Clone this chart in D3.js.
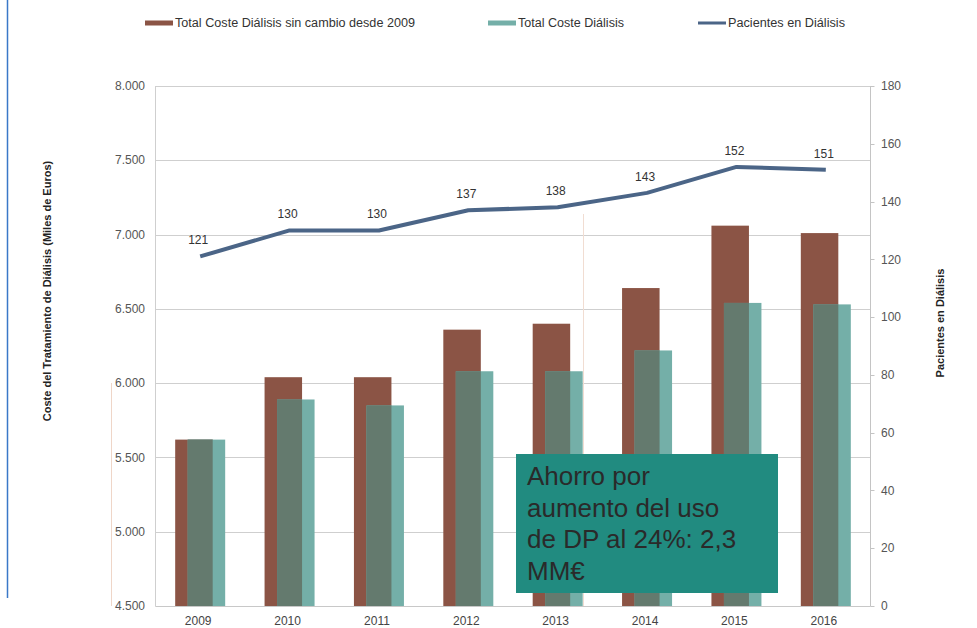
<!DOCTYPE html>
<html>
<head>
<meta charset="utf-8">
<script src="https://cdn.jsdelivr.net/npm/d3@7"></script>
<style>
  html, body { margin: 0; padding: 0; background: #fff; }
  svg { display: block; font-family: "Liberation Sans", Arial, sans-serif; }
</style>
</head>
<body>
<svg id="chart" width="977" height="628"></svg>
<script>
// ---- data ----
const years = ["2009", "2010", "2011", "2012", "2013", "2014", "2015", "2016"];
const costeSinCambio = [5620, 6040, 6040, 6360, 6400, 6640, 7060, 7010];
const costeTotal = [5620, 5890, 5850, 6080, 6080, 6220, 6540, 6530];
const pacientes = [121, 130, 130, 137, 138, 143, 152, 151];
const leftTicks = [4500, 5000, 5500, 6000, 6500, 7000, 7500, 8000];
const rightTicks = [0, 20, 40, 60, 80, 100, 120, 140, 160, 180];
const legendLabels = ["Total Coste Diálisis sin cambio desde 2009", "Total Coste Diálisis", "Pacientes en Diálisis"];
const annotationLines = ["Ahorro por", "aumento del uso", "de DP al 24%: 2,3", "MM€"];

// ---- layout ----
const svg = d3.select("#chart");
const L = 155.5, R = 870.5, T = 86, B = 606;
const cBrown = "#8b5445", cTeal = "#74afa8", cOver = "#647a6e", cLine = "#4b6587";

const x = d3.scaleBand().domain(years).range([L, R]).paddingInner(0).paddingOuter(0);
const yL = d3.scaleLinear().domain([4500, 8000]).range([B, T]);
const yR = d3.scaleLinear().domain([0, 180]).range([B, T]);

const fmt = d => d3.format(",")(d).replace(/,/g, ".");

// blue frame line at far left
svg.append("line").attr("x1", 7.5).attr("x2", 7.5).attr("y1", 0).attr("y2", 598)
  .attr("stroke", "#3a78c8").attr("stroke-width", 1.5);

// gridlines
svg.append("g").selectAll("line").data(leftTicks).join("line")
  .attr("x1", L).attr("x2", R)
  .attr("y1", d => Math.round(yL(d)) + 0.5).attr("y2", d => Math.round(yL(d)) + 0.5)
  .attr("stroke", "#cfcfcf").attr("stroke-width", 1);

// faint artifacts
svg.append("line").attr("x1", 583.5).attr("x2", 583.5).attr("y1", 214).attr("y2", B)
  .attr("stroke", "#f1ddd2").attr("stroke-width", 1);
svg.append("line").attr("x1", 111.5).attr("x2", 111.5).attr("y1", 383).attr("y2", B)
  .attr("stroke", "#efd6c8").attr("stroke-width", 1);

// axes lines
svg.append("line").attr("x1", L).attr("x2", L).attr("y1", T).attr("y2", B).attr("stroke", "#cfcfcf");
svg.append("line").attr("x1", R).attr("x2", R).attr("y1", T).attr("y2", B).attr("stroke", "#c4c4c4");

// bars
const bw = 37.5, off = 12.5;
const cx = d => x(d) + x.bandwidth() / 2;
const gBars = svg.append("g");
years.forEach((yr, i) => {
  const c = cx(yr);
  const bx0 = c - off - bw / 2 + 0, tx0 = c + off - bw / 2;
  gBars.append("rect").attr("x", c - 25).attr("width", bw)
    .attr("y", yL(costeSinCambio[i])).attr("height", B - yL(costeSinCambio[i])).attr("fill", cBrown);
  gBars.append("rect").attr("x", c - 25 + off).attr("width", bw)
    .attr("y", yL(costeTotal[i])).attr("height", B - yL(costeTotal[i])).attr("fill", cTeal);
  const top = Math.max(yL(costeTotal[i]), yL(costeSinCambio[i]));
  gBars.append("rect").attr("x", c - 25 + off).attr("width", bw - off)
    .attr("y", top).attr("height", B - top).attr("fill", cOver);
});

// bottom axis line
svg.append("line").attr("x1", L).attr("x2", R).attr("y1", B + 0.5).attr("y2", B + 0.5).attr("stroke", "#c8c8c8");

// left axis labels
svg.append("g").selectAll("text").data(leftTicks).join("text")
  .attr("x", 145).attr("y", d => yL(d)).attr("dy", "0.35em")
  .attr("text-anchor", "end").attr("font-size", 12).attr("fill", "#555").text(fmt);

// right axis ticks + labels
svg.append("g").selectAll("line").data(rightTicks).join("line")
  .attr("x1", R).attr("x2", R + 4).attr("y1", d => Math.round(yR(d)) + 0.5).attr("y2", d => Math.round(yR(d)) + 0.5)
  .attr("stroke", "#c4c4c4");
svg.append("g").selectAll("text").data(rightTicks).join("text")
  .attr("x", 881).attr("y", d => yR(d)).attr("dy", "0.35em")
  .attr("text-anchor", "start").attr("font-size", 12).attr("fill", "#555").text(d => d);

// x labels
svg.append("g").selectAll("text").data(years).join("text")
  .attr("x", d => cx(d) - 2).attr("y", 625)
  .attr("text-anchor", "middle").attr("font-size", 12).attr("fill", "#444").text(d => d);

// axis titles
svg.append("text").attr("transform", "translate(51,291) rotate(-90)")
  .attr("text-anchor", "middle").attr("font-size", 11).attr("font-weight", "bold").attr("fill", "#222")
  .text("Coste del Tratamiento de Diálisis (Miles de Euros)");
svg.append("text").attr("transform", "translate(944,323) rotate(-90)")
  .attr("text-anchor", "middle").attr("font-size", 11).attr("font-weight", "bold").attr("fill", "#222")
  .text("Pacientes en Diálisis");

// line
const line = d3.line().x((d, i) => cx(years[i])).y(d => yR(d));
svg.append("path").datum(pacientes).attr("d", line)
  .attr("fill", "none").attr("stroke", cLine).attr("stroke-width", 4).attr("stroke-linejoin", "round");
svg.append("g").selectAll("text").data(pacientes).join("text")
  .attr("x", (d, i) => cx(years[i]) - 2).attr("y", d => yR(d) - 12)
  .attr("text-anchor", "middle").attr("font-size", 12).attr("fill", "#333").text(d => d);

// annotation box
svg.append("rect").attr("x", 516).attr("y", 454).attr("width", 262).attr("height", 139).attr("fill", "#218b80");
svg.append("g").selectAll("text").data(annotationLines).join("text")
  .attr("x", 527).attr("y", (d, i) => 485 + i * 31.5)
  .attr("font-size", 26).attr("fill", "#2a2a2a").text(d => d);

// legend
const legItems = [
  { sx: 145, tx: 175, tw: 240, color: cBrown, h: 5 },
  { sx: 488, tx: 518, tw: 106, color: cTeal, h: 5 },
  { sx: 698, tx: 728, tw: 117, color: cLine, h: 3 }
];
const leg = svg.append("g");
legItems.forEach((it, i) => {
  leg.append("rect").attr("x", it.sx).attr("y", 23 - it.h / 2).attr("width", 28).attr("height", it.h).attr("fill", it.color);
  leg.append("text").attr("x", it.tx).attr("y", 23).attr("dy", "0.35em")
    .attr("font-size", 12).attr("fill", "#333")
    .attr("textLength", it.tw).attr("lengthAdjust", "spacingAndGlyphs")
    .text(legendLabels[i]);
});
</script>
</body>
</html>
